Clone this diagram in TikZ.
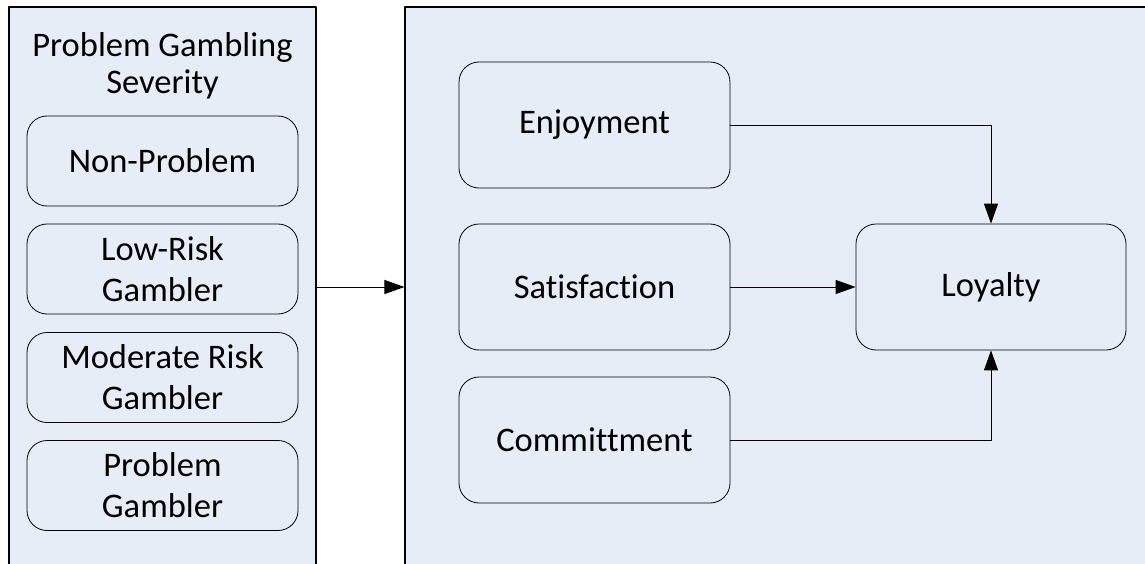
\documentclass[tikz,border=0pt]{standalone}
\usepackage{fontspec}
\setmainfont{Carlito}[Ligatures=NoCommon]
\usetikzlibrary{arrows.meta,positioning}
\definecolor{pnlfill}{RGB}{231,237,247}
\tikzset{
  pnl/.style={rectangle,draw=black,fill=pnlfill,line width=1.1pt,
              minimum height=613pt,inner sep=0pt},
  gb/.style={rectangle,rounded corners=20pt,draw=black,fill=pnlfill,
             line width=0.8pt,minimum width=271pt,minimum height=90pt,
             align=center,inner sep=0pt,
             font=\fontsize{34.5}{41}\selectfont},
  fb/.style={gb,minimum height=126pt},
  lnk/.style={-{Triangle[length=20pt,width=14pt]},line width=0.9pt},
  every picture/.style={line cap=round,line join=round}}

\begin{document}
\begin{tikzpicture}[x=1pt,y=-1pt]
  \useasboundingbox (0,0) rectangle (1145,564);
  \node[pnl,minimum width=307pt] (sev) at (162.5,313.5){};
  \node[pnl,minimum width=795pt] (drv) at (802.5,313.5){};
  \node[align=center,inner sep=0pt,font=\fontsize{34.5}{37}\selectfont]
       (ttl) at (162.5,66){Problem Gambling\\Severity};
  \node[gb] (np) at (162.5,161){Non-Problem};
  \node[gb] (lr) at (162.5,269){Low-Risk\\Gambler};
  \node[gb] (mr) at (162.5,377.5){Moderate Risk\\Gambler};
  \node[gb] (pg) at (162.5,485.5){Problem\\Gambler};
  \node[fb] (enj) at (594.5,125){Enjoyment};
  \node[fb] (sat) at (594.5,287){Satisfaction};
  \node[fb] (com) at (594.5,440){Committment};
  \node[fb,minimum width=270pt] (loy) at (991,287){Loyalty};
  \draw[lnk] (sev.east |- sat) -- (drv.west |- sat);
  \draw[lnk] (enj.east) -| (loy.north);
  \draw[lnk] (sat.east) -- (loy.west);
  \draw[lnk] (com.east) -| (loy.south);
\end{tikzpicture}
\end{document}
